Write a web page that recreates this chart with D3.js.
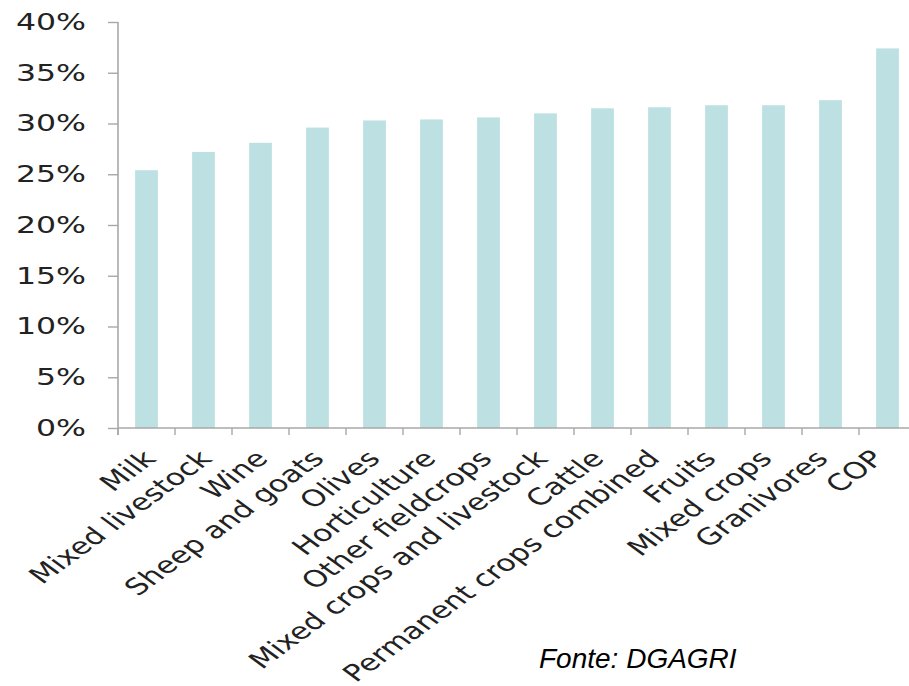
<!DOCTYPE html>
<html>
<head>
<meta charset="utf-8">
<script src="https://cdn.jsdelivr.net/npm/d3@7"></script>
<style>
  body { margin: 0; background: #fff; }
  svg { display: block; }
</style>
</head>
<body>
<svg id="bar-chart"></svg>
<script>
// data
const categories = ["Milk", "Mixed livestock", "Wine", "Sheep and goats", "Olives", "Horticulture",
  "Other fieldcrops", "Mixed crops and livestock", "Cattle", "Permanent crops combined",
  "Fruits", "Mixed crops", "Granivores", "COP"];
const values = [25.4, 27.2, 28.1, 29.6, 30.3, 30.4, 30.6, 31.0, 31.5, 31.6, 31.8, 31.8, 32.3, 37.4];
const yTicks = [0, 5, 10, 15, 20, 25, 30, 35, 40];
const source = "Fonte: DGAGRI";

const svgWidth = 909;
const svgHeight = 686;
const stretch = 1.37; // text in the picture is stretched sideways

const svg = d3.select("#bar-chart")
  .attr("width", svgWidth)
  .attr("height", svgHeight);

const xScale = d3.scaleBand()
  .domain(categories)
  .range([118, 916])
  .paddingInner(0.6)
  .paddingOuter(0.3);

const yScale = d3.scaleLinear()
  .domain([0, 40])
  .range([428, 22]);

const center = d => xScale(d) + xScale.bandwidth() / 2;

// labels sit a little off the bar centres, tighter than the bars
const labelX = d3.scalePoint()
  .domain(categories)
  .range([center(categories[0]) + 11, center(categories[categories.length - 1]) - 2]);

// bars
svg.selectAll(".bar")
  .data(values)
  .enter()
  .append("rect")
  .attr("class", "bar")
  .attr("x", (d, i) => xScale(categories[i]))
  .attr("y", d => yScale(d))
  .attr("width", xScale.bandwidth())
  .attr("height", d => yScale(0) - yScale(d))
  .attr("fill", "#bde0e3");

// y axis
const yAxis = d3.axisLeft(yScale)
  .tickValues(yTicks)
  .tickFormat(d => d + "%")
  .tickSizeInner(10)
  .tickSizeOuter(0);

const yG = svg.append("g")
  .attr("transform", "translate(118,0)")
  .call(yAxis);
yG.select(".domain").attr("stroke", "#a8a8a8").attr("stroke-width", 1.6)
  .attr("d", "M0,22V435");
yG.selectAll(".tick line").attr("stroke", "#a8a8a8").attr("stroke-width", 1.4);
yG.selectAll(".tick text")
  .attr("x", 0)
  .attr("transform", `translate(-32,0) scale(${stretch},1)`)
  .attr("font-family", "DejaVu Sans, Verdana, sans-serif")
  .attr("font-size", 23)
  .attr("fill", "#222");

// x axis, ticks sit between the bars
const xG = svg.append("g").attr("transform", "translate(0,428)");
xG.append("line")
  .attr("x1", 118).attr("x2", svgWidth)
  .attr("stroke", "#a8a8a8").attr("stroke-width", 1.6);
xG.selectAll(".xtick")
  .data(categories)
  .enter()
  .append("line")
  .attr("class", "xtick")
  .attr("x1", d => center(d) - xScale.step() / 2)
  .attr("x2", d => center(d) - xScale.step() / 2)
  .attr("y1", 0).attr("y2", 7)
  .attr("stroke", "#a8a8a8").attr("stroke-width", 1.4);

// rotated category labels
svg.append("g").selectAll("text")
  .data(categories)
  .enter()
  .append("text")
  .attr("transform", d => `translate(${labelX(d)},460) scale(${stretch},1) rotate(-45)`)
  .attr("text-anchor", "end")
  .attr("font-family", "DejaVu Sans, Verdana, sans-serif")
  .attr("font-size", 23)
  .attr("fill", "#222")
  .text(d => d);

svg.append("text")
  .attr("x", 539)
  .attr("y", 668)
  .attr("font-family", "Liberation Sans, Arial, sans-serif")
  .attr("font-style", "italic")
  .attr("font-size", 28)
  .attr("fill", "#000")
  .text(source);
</script>
</body>
</html>
